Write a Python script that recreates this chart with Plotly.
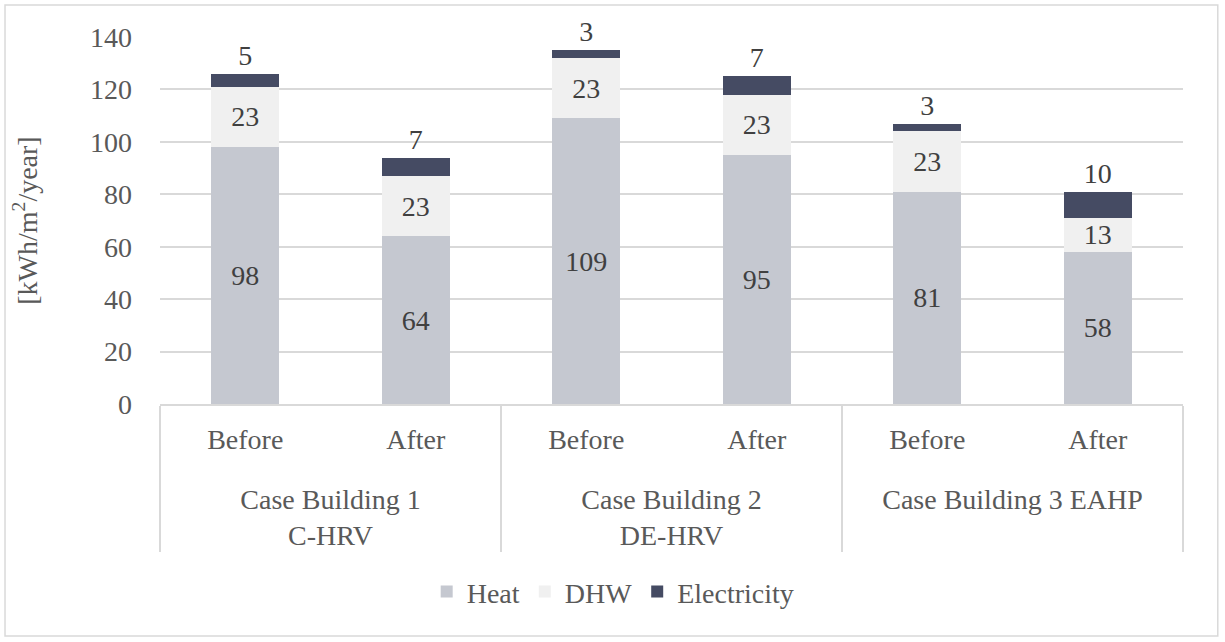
import plotly.graph_objects as go

groups = ["<br>Case Building 1<br>C-HRV", "<br>Case Building 1<br>C-HRV",
          "<br>Case Building 2<br>DE-HRV", "<br>Case Building 2<br>DE-HRV",
          "<br>Case Building 3 EAHP", "<br>Case Building 3 EAHP"]
phases = ["Before", "After", "Before", "After", "Before", "After"]
heat = [98, 64, 109, 95, 81, 58]
dhw = [23, 23, 23, 23, 23, 13]
electricity = [5, 7, 3, 7, 3, 10]

FONT = "Liberation Serif, Times New Roman, serif"
TXT = "#595959"
LBL = "#404040"
FS = 28

x = [groups, phases]
fig = go.Figure()
fig.add_trace(go.Bar(x=x, y=heat, name="Heat", marker=dict(color="#C5C8D0", line=dict(width=0)),
                     text=heat, textposition="inside", insidetextanchor="middle", textangle=0,
                     constraintext="none", textfont=dict(family=FONT, size=FS, color=LBL)))
fig.add_trace(go.Bar(x=x, y=dhw, name="DHW", marker=dict(color="#F0F0F0", line=dict(width=0)),
                     text=dhw, textposition="inside", insidetextanchor="middle", textangle=0,
                     constraintext="none", textfont=dict(family=FONT, size=FS, color=LBL)))
fig.add_trace(go.Bar(x=x, y=electricity, name="Electricity", marker=dict(color="#454B63", line=dict(width=0)),
                     text=electricity, textposition="outside", cliponaxis=False, textangle=0,
                     constraintext="none", textfont=dict(family=FONT, size=FS, color=LBL)))

fig.update_layout(
    barmode="stack",
    bargap=0.6,
    width=1225, height=642,
    margin=dict(l=160, r=42, t=37, b=238, autoexpand=False),
    paper_bgcolor="white", plot_bgcolor="white",
    font=dict(family=FONT, size=FS, color=TXT),
    showlegend=True,
    legend=dict(orientation="h", x=0.443, xanchor="center", y=-0.512, yanchor="middle",
                font=dict(family=FONT, size=FS, color=TXT), traceorder="normal",
                itemwidth=30, tracegroupgap=0),
    shapes=[dict(type="rect", xref="paper", yref="paper", x0=-0.1515, x1=1.034, y0=-0.632, y1=1.087,
                 line=dict(color="#D9D9D9", width=1.5), fillcolor="rgba(0,0,0,0)", layer="below")],
)
fig.update_yaxes(range=[0, 140], dtick=20, showgrid=True, gridcolor="#D9D9D9", gridwidth=1.5,
                 zeroline=False, showline=False, ticks="", ticklabelstandoff=27,
                 tickfont=dict(family=FONT, size=FS, color=TXT),
                 title=dict(text="[kWh/m<sup>2</sup>/year]", font=dict(family=FONT, size=FS, color=TXT), standoff=44))
fig.update_xaxes(type="multicategory", showline=True, linecolor="#D9D9D9", linewidth=1.5,
                 showdividers=True, dividercolor="#D9D9D9", dividerwidth=1.5,
                 ticklabelstandoff=10,
                 tickfont=dict(family=FONT, size=FS, color=TXT), ticks="")

fig.write_html("out.html", config={"displayModeBar": False},
               post_script="document.body.style.margin='0';document.body.style.overflow='hidden';")
